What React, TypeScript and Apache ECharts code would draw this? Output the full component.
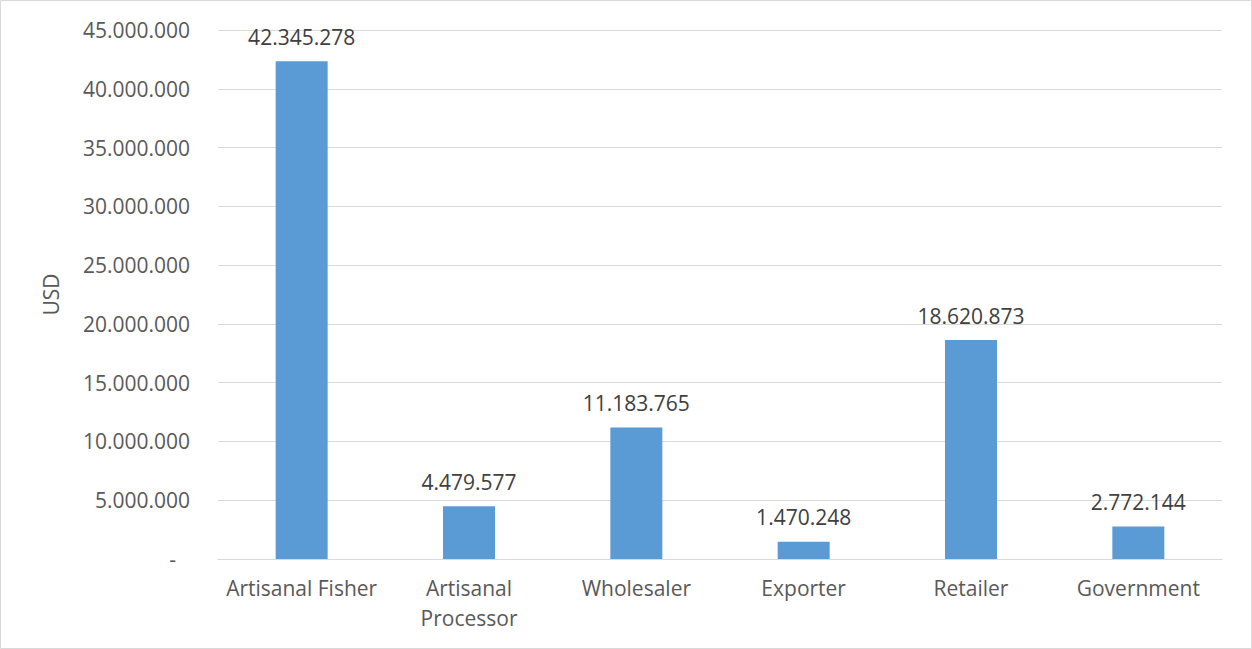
import React, { useEffect, useRef } from "react";
import * as echarts from "echarts";

const categories = ["Artisanal Fisher", "Artisanal\nProcessor", "Wholesaler", "Exporter", "Retailer", "Government"];
const values = [42345278, 4479577, 11183765, 1470248, 18620873, 2772144];
const yMin = 0;
const yMax = 45000000;
const yInterval = 5000000;
const yAxisName = "USD";

const fmt = (v: number) => String(Math.round(v)).replace(/\B(?=(\d{3})+(?!\d))/g, ".");

const FONT = "'Open Sans', 'Noto Sans', sans-serif";
const TXT = "#595959";
const FS = 21;

export default function App() {
  const ref = useRef<HTMLDivElement>(null);
  useEffect(() => {
    document.body.style.margin = "0";
    const chart = echarts.init(ref.current!, null, { renderer: "svg" });
    chart.setOption({
      animation: false,
      backgroundColor: "#ffffff",
      textStyle: { fontFamily: FONT },
      graphic: [
        {
          type: "rect",
          shape: { x: 0.5, y: 0.5, width: 1251, height: 648 },
          style: { fill: "none", stroke: "#d9d9d9", lineWidth: 1 },
          silent: true,
        },
      ],
      grid: { left: 218, right: 30, top: 30, bottom: 90 },
      xAxis: {
        type: "category",
        data: categories,
        axisLine: { lineStyle: { color: "#d9d9d9", width: 1 } },
        axisTick: { show: false },
        axisLabel: { color: TXT, fontSize: FS, fontFamily: FONT, lineHeight: 30, margin: 14, interval: 0 },
      },
      yAxis: {
        type: "value",
        min: yMin,
        max: yMax,
        interval: yInterval,
        name: yAxisName,
        nameLocation: "middle",
        nameGap: 157,
        nameTextStyle: { color: TXT, fontSize: FS, fontFamily: FONT },
        axisLine: { show: false },
        axisTick: { show: false },
        splitLine: { lineStyle: { color: "#d9d9d9", width: 1 } },
        axisLabel: {
          color: TXT,
          fontSize: FS,
          fontFamily: FONT,
          margin: 28,
          formatter: (v: number) => (v === 0 ? "{z|-}" : fmt(v)),
          rich: { z: { color: TXT, fontSize: FS, fontFamily: FONT, padding: [0, 14, 0, 0] } },
        },
      },
      series: [
        {
          type: "bar",
          data: values,
          barWidth: 52,
          itemStyle: { color: "#5b9bd5" },
          label: {
            show: true,
            position: "top",
            distance: 14,
            color: "#404040",
            fontSize: FS,
            fontFamily: FONT,
            formatter: (p: any) => fmt(p.value),
          },
        },
      ],
    });
    return () => chart.dispose();
  }, []);
  return <div ref={ref} style={{ width: 1252, height: 649 }} />;
}
